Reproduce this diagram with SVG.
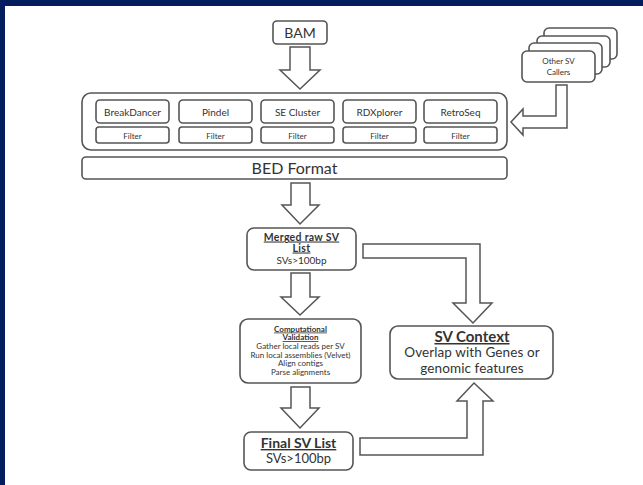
<svg xmlns="http://www.w3.org/2000/svg" width="643" height="485" viewBox="0 0 643 485">
<style>
.bx{fill:#fff;stroke:#555;stroke-width:1.6}
.ar{fill:#fff;stroke:#555;stroke-width:1.5;stroke-linejoin:miter}
text{font-family:Lato,"Open Sans","Liberation Sans",sans-serif;fill:#333;text-anchor:middle}
.b{font-weight:bold;text-decoration:underline}
</style>
<rect x="0" y="0" width="643" height="485" fill="#fff"/>
<rect x="0" y="0" width="643" height="6" fill="#031d5f"/>
<rect x="0" y="0" width="5" height="485" fill="#031d5f"/>

<g id="connectors">
<path class="ar" d="M290,47 L310,47 L310,70 L320,70 L300,89 L280,70 L290,70 Z"/>
<path class="ar" d="M291,183 L310,183 L310,205 L319,205 L300,224 L282,205 L291,205 Z"/>
<path class="ar" d="M291,273 L310,273 L310,297 L319,297 L300,315 L281,297 L291,297 Z"/>
<path class="ar" d="M291,387 L310,387 L310,408 L319,408 L300,428 L281,408 L291,408 Z"/>
<path class="ar" d="M363,244 L480,244 L480,303 L492,303 L473,323 L453,303 L466,303 L466,258 L363,258 Z"/>
<path class="ar" d="M360,455 L483,455 L483,401 L493,401 L474,383 L457,401 L467,401 L467,438 L360,438 Z"/>
<path class="ar" d="M556,85 L567,85 L567,128 L523,128 L523,135 L511,122 L523,109 L523,116 L556,116 Z"/>
</g>

<g id="bam">
<rect class="bx" x="273" y="21" width="54" height="23" rx="4"/>
<text x="300" y="38" font-size="14">BAM</text>
</g>

<g id="callers">
<rect class="bx" x="82" y="93" width="425" height="57" rx="9"/>
<g id="breakdancer">
<rect class="bx" x="96" y="100" width="73" height="23" rx="4"/>
<text x="132.5" y="116" font-size="10">BreakDancer</text>
<rect class="bx" x="96" y="127" width="73" height="16" rx="3"/>
<text x="132.5" y="139" font-size="8">Filter</text>
</g>
<g id="pindel">
<rect class="bx" x="179" y="100" width="73" height="23" rx="4"/>
<text x="215.5" y="116" font-size="10">Pindel</text>
<rect class="bx" x="179" y="127" width="73" height="16" rx="3"/>
<text x="215.5" y="139" font-size="8">Filter</text>
</g>
<g id="secluster">
<rect class="bx" x="261" y="100" width="73" height="23" rx="4"/>
<text x="297.5" y="116" font-size="10">SE Cluster</text>
<rect class="bx" x="261" y="127" width="73" height="16" rx="3"/>
<text x="297.5" y="139" font-size="8">Filter</text>
</g>
<g id="rdxplorer">
<rect class="bx" x="343" y="100" width="73" height="23" rx="4"/>
<text x="379.5" y="116" font-size="10">RDXplorer</text>
<rect class="bx" x="343" y="127" width="73" height="16" rx="3"/>
<text x="379.5" y="139" font-size="8">Filter</text>
</g>
<g id="retroseq">
<rect class="bx" x="424" y="100" width="73" height="23" rx="4"/>
<text x="460.5" y="116" font-size="10">RetroSeq</text>
<rect class="bx" x="424" y="127" width="73" height="16" rx="3"/>
<text x="460.5" y="139" font-size="8">Filter</text>
</g>
</g>

<g id="other-callers">
<rect class="bx" x="544" y="28" width="73" height="31" rx="5"/>
<rect class="bx" x="537" y="36" width="73" height="31" rx="5"/>
<rect class="bx" x="529" y="43" width="73" height="31" rx="5"/>
<rect class="bx" x="522" y="51" width="73" height="31" rx="5"/>
<text x="558.5" y="64" font-size="8">Other SV</text>
<text x="558.5" y="75" font-size="8">Callers</text>
</g>

<g id="bed">
<rect class="bx" x="82" y="157" width="425" height="22" rx="4"/>
<text x="294.5" y="174" font-size="16">BED Format</text>
</g>

<g id="merged">
<rect class="bx" x="247" y="228" width="109" height="42" rx="7"/>
<text class="b" x="301.5" y="240.5" font-size="10.5" letter-spacing="0.3">Merged raw SV</text>
<text class="b" x="301.5" y="251.5" font-size="10.5" letter-spacing="0.3">List</text>
<text x="301.5" y="264" font-size="10">SVs&gt;100bp</text>
</g>

<g id="validation">
<rect class="bx" x="240" y="319" width="121" height="64" rx="8"/>
<text class="b" x="300.5" y="331.5" font-size="8">Computational</text>
<text class="b" x="300.5" y="340" font-size="8">Validation</text>
<text x="300.5" y="349" font-size="8">Gather local reads per SV</text>
<text x="300.5" y="357.5" font-size="8">Run local assemblies (Velvet)</text>
<text x="300.5" y="366" font-size="8">Align contigs</text>
<text x="300.5" y="374.5" font-size="8">Parse alignments</text>
</g>

<g id="final">
<rect class="bx" x="244" y="432" width="109" height="38" rx="7"/>
<text class="b" x="298.5" y="448" font-size="14">Final SV List</text>
<text x="298.5" y="463" font-size="13">SVs&gt;100bp</text>
</g>

<g id="context">
<rect class="bx" x="390" y="326" width="163" height="53" rx="8"/>
<text class="b" x="472" y="342" font-size="15">SV Context</text>
<text x="472" y="357" font-size="13.5" letter-spacing="0.1">Overlap with Genes or</text>
<text x="472" y="372.5" font-size="13.5" letter-spacing="0.1">genomic features</text>
</g>
</svg>
